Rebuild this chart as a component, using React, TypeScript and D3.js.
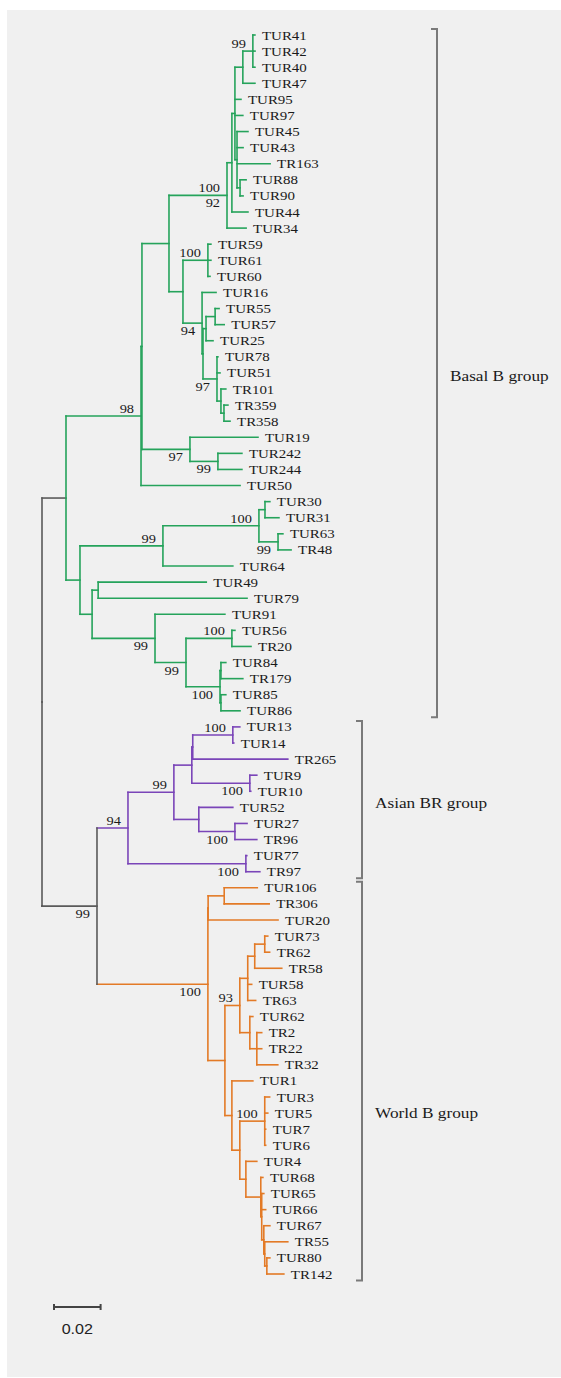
import React from "react";
import * as d3 from "d3";

// tree data in Newick, branch lengths in substitutions/site
const basalTop =
  "(((((TUR41:0.0009,TUR42:0.0009,TUR40:0.0009):0.0043,TUR47:0.0052):0.0034,TUR95:0.0026,TUR97:0.0034,(TUR45:0.0047,TUR43:0.0026,TR163:0.0142,(TUR88:0.0026,TUR90:0.0013):0.0013):0.0009):0.0013,TUR44:0.0069):0.0021,TUR34:0.0082)";
const basalMid =
  "((TUR59:0.0013,TUR61:0.0013,TUR60:0.0009):0.0107,(TUR16:0.0060,(((TUR55:0.0017,TUR57:0.0039):0.0039,TUR25:0.0030):0.0013,(TUR78:0.0004,TUR51:0.0013,(TR101:0.0021,(TR359:0.0017,TR358:0.0026):0.0013):0.0017):0.0060):0.0004):0.0082)";
const basal19 = "(TUR19:0.0292,(TUR242:0.0103,TUR244:0.0103):0.0120)";
const basal30 = "(((TUR30:0.0021,TUR31:0.0060):0.0026,(TUR63:0.0021,TR48:0.0056):0.0082):0.0412,TUR64:0.0300)";
const basal91 =
  "(TUR91:0.0300,((TUR56:0.0013,TR20:0.0082):0.0197,((TUR84:0.0021,TR179:0.0094):0.0004,(TUR85:0.0021,TUR86:0.0082):0.0004):0.0146):0.0133)";
const basal = `(((((${basalTop}:0.0249,${basalMid}:0.0060):0.0116,${basal19}:0.0206):0.0004,TUR50:0.0425):0.0322,(${basal30}:0.0356,((TUR49:0.0464,TUR79:0.0639):0.0026,${basal91}:0.0270):0.0052):0.0060)`;

const asian =
  "((((((TUR13:0.0030,TUR14:0.0004):0.0172,TR265:0.0408):0.0004,(TUR9:0.0030,TUR10:0.0004):0.0249):0.0077,(TUR52:0.0146,(TUR27:0.0052,TR96:0.0094):0.0155):0.0107):0.0197,(TUR77:0.0004,TR97:0.0060):0.0506)";

const world1 = "((TUR106:0.0142,TR306:0.0193):0.0069,TUR20:0.0300)";
const world93 =
  "((((TUR73:0.0013,TR62:0.0021):0.0043,TR58:0.0116):0.0030,TUR58:0.0017,TR63:0.0034):0.0034,(TUR62:0.0013,(TR2:0.0021,TR22:0.0021,TR32:0.0090):0.0030):0.0043)";
const world68 =
  "(TUR68:0.0009,(TUR65:0.0009,TUR66:0.0017,(TUR67:0.0026,(TR55:0.0099,(TUR80:0.0013,TR142:0.0073):0.0009):0.0004):0.0009):0.0004)";
const world = `(${world1}:0.0001,(${world93}:0.0064,(TUR1:0.0090,((TUR3:0.0021,TUR5:0.0013,TUR7:0.0004,TUR6:0.0004):0.0107,(TUR4:0.0047,${world68}:0.0064):0.0026):0.0034):0.0030):0.0073)`;

const treeNewick = `(${basal}:0.0103,(${asian}:0.0133,${world}:0.0476):0.0236);`;

const groups = [
  { name: "Basal B group", first: "TUR41", last: "TUR86", color: "#25a35b", greyStem: true },
  { name: "Asian BR group", first: "TUR13", last: "TR97", color: "#7a45b8", greyStem: false },
  { name: "World B group", first: "TUR106", last: "TR142", color: "#e37a26", greyStem: false },
];

// bootstrap values: clade given by two leaves, label above or below the branch
const support: [number, string, string, string][] = [
  [99, "TUR41", "TUR40", "above"],
  [100, "TUR41", "TUR34", "above"],
  [92, "TUR41", "TUR34", "below"],
  [100, "TUR59", "TUR60", "above"],
  [94, "TUR16", "TR358", "below"],
  [97, "TUR78", "TR358", "below"],
  [98, "TUR41", "TUR50", "above"],
  [97, "TUR19", "TUR244", "below"],
  [99, "TUR242", "TUR244", "below"],
  [99, "TUR30", "TUR64", "above"],
  [100, "TUR30", "TR48", "above"],
  [99, "TUR63", "TR48", "below"],
  [99, "TUR91", "TUR86", "below"],
  [100, "TUR56", "TR20", "above"],
  [99, "TUR56", "TUR86", "below"],
  [100, "TUR84", "TUR86", "below"],
  [100, "TUR13", "TUR14", "above"],
  [99, "TUR13", "TR96", "above"],
  [100, "TUR9", "TUR10", "below"],
  [100, "TUR27", "TR96", "below"],
  [94, "TUR13", "TR97", "above"],
  [100, "TUR77", "TR97", "below"],
  [99, "TUR13", "TR142", "below"],
  [100, "TUR106", "TR142", "below"],
  [93, "TUR73", "TR32", "above"],
  [100, "TUR3", "TUR6", "above"],
];

const scaleBarValue = 0.02;

type TNode = { name: string; length: number; children: TNode[] };

function parseNewick(s: string): TNode {
  let i = 0;
  const node = (): TNode => {
    const n: TNode = { name: "", length: 0, children: [] };
    if (s[i] === "(") {
      i++;
      n.children.push(node());
      while (s[i] === ",") {
        i++;
        n.children.push(node());
      }
      i++;
    }
    while (i < s.length && !",():;".includes(s[i])) n.name += s[i++];
    if (s[i] === ":") {
      i++;
      let num = "";
      while (i < s.length && !",();".includes(s[i])) num += s[i++];
      n.length = +num;
    }
    return n;
  };
  return node();
}

const W = 561;
const H = 1378;
const grey = "#5a5a5a";
const serif = "'Liberation Serif', 'Times New Roman', serif";
const stretch = "scale(1.15,1)";

const App = () => {
  const root: any = d3.hierarchy(parseNewick(treeNewick), (d) => (d.children.length ? d.children : null));
  root.eachBefore((n: any) => {
    n.len = n.parent ? n.parent.len + n.data.length : 0;
  });
  const leaves = root.leaves();
  const x = d3.scaleLinear().domain([0, 0.1]).range([42, 275]);
  const y = d3.scalePoint().domain(leaves.map((d: any) => d.data.name)).range([35, 1274]);
  root.eachAfter((n: any) => {
    n.px = x(n.len);
    n.py = n.children ? (n.children[0].py + n.children[n.children.length - 1].py) / 2 : y(n.data.name);
  });
  const byName = new Map(leaves.map((d: any) => [d.data.name, d]));
  const lca = (a: string, b: string) => {
    const p = (byName.get(a) as any).path(byName.get(b));
    return p.reduce((m: any, d: any) => (d.depth < m.depth ? d : m), p[0]);
  };
  const groupRoots = groups.map((g) => {
    const r = lca(g.first, g.last);
    r.each((n: any) => (n.group = g));
    return r;
  });

  const nodes = root.descendants();
  const edgeColor = (n: any) =>
    !n.group ? grey : groupRoots.includes(n) && n.group.greyStem ? grey : n.group.color;

  const bracketX = [437, 362, 362];
  const labelY = [null, null, y("TUR5")];

  const barX0 = 54;
  const barLen = x(scaleBarValue) - x(0);

  return (
    <svg width={W} height={H} style={{ position: "absolute", left: 0, top: 0 }}>
      <rect x={7} y={10} width={W - 7} height={H - 11} fill="#f0f0f0" />
      <g strokeWidth={1.6} strokeLinecap="square" fill="none">
        {nodes
          .filter((n: any) => n.parent)
          .map((n: any, i: number) => (
            <line key={"h" + i} x1={n.parent.px} x2={n.px} y1={n.py} y2={n.py} stroke={edgeColor(n)} />
          ))}
        {nodes
          .filter((n: any) => n.children)
          .map((n: any, i: number) => (
            <line
              key={"v" + i}
              x1={n.px}
              x2={n.px}
              y1={n.children[0].py}
              y2={n.children[n.children.length - 1].py}
              stroke={n.group ? n.group.color : grey}
            />
          ))}
      </g>
      <g fontFamily={serif} fontSize={13} fill="#1a1a1a">
        {leaves.map((n: any) => (
          <text key={n.data.name} transform={`translate(${n.px + 7},${n.py}) ${stretch}`} dy="0.35em">
            {n.data.name}
          </text>
        ))}
      </g>
      <g fontFamily={serif} fontSize={12.5} fill="#1a1a1a" textAnchor="end">
        {support.map(([v, a, b, side], i) => {
          const n = lca(a, b);
          const ty = side === "above" ? n.py - 3 : n.py + 12;
          return (
            <text key={"s" + i} transform={`translate(${n.px - 7},${ty}) ${stretch}`}>
              {v}
            </text>
          );
        })}
      </g>
      {groups.map((g, i) => {
        const y0 = (y(g.first) as number) - 6;
        const y1 = (y(g.last) as number) + 6.5;
        const bx = bracketX[i];
        const ly = labelY[i] ?? (y0 + y1) / 2 + 3;
        return (
          <g key={g.name}>
            <path d={`M${bx - 6},${y0}H${bx}V${y1}H${bx - 6}`} fill="none" stroke="#7a7a7a" strokeWidth={2} />
            <text
              transform={`translate(${bx + 13},${ly}) ${stretch}`}
              dy="0.35em"
              fontFamily={serif}
              fontSize={15}
              fill="#1a1a1a"
            >
              {g.name}
            </text>
          </g>
        );
      })}
      <g stroke="#444" strokeWidth={2}>
        <line x1={barX0} x2={barX0 + barLen} y1={1307} y2={1307} />
        <line x1={barX0} x2={barX0} y1={1304} y2={1310} />
        <line x1={barX0 + barLen} x2={barX0 + barLen} y1={1304} y2={1310} />
      </g>
      <text
        transform={`translate(${barX0 + barLen / 2},1334) ${stretch}`}
        textAnchor="middle"
        fontFamily="'Liberation Sans', Arial, sans-serif"
        fontSize={14}
        fill="#222"
      >
        {scaleBarValue}
      </text>
    </svg>
  );
};

export default App;
